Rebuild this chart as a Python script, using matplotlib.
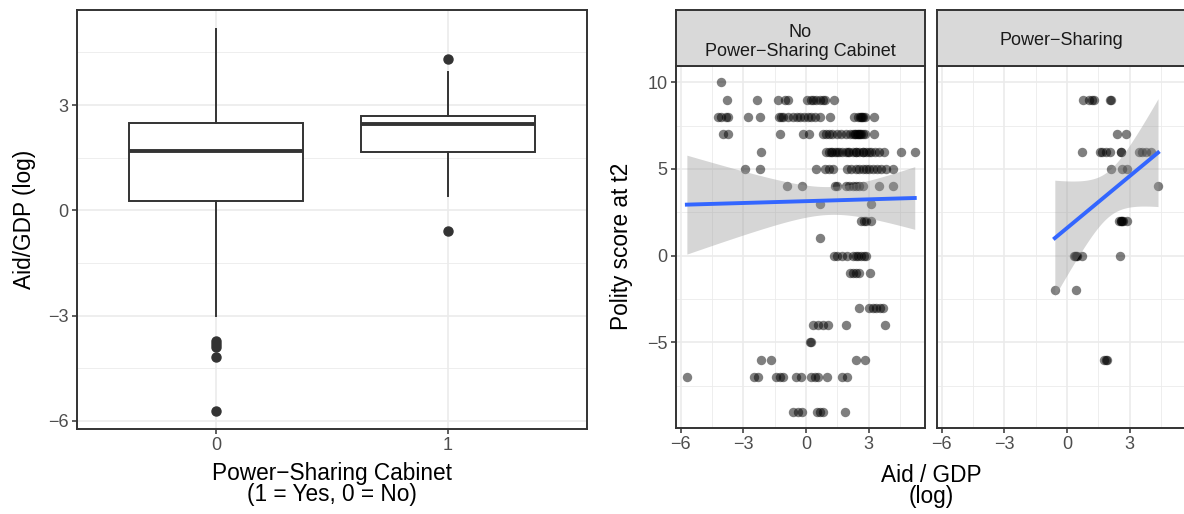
import numpy as np
import matplotlib
matplotlib.use("Agg")
import matplotlib.pyplot as plt

plt.rcParams['font.family'] = ['Liberation Sans', 'DejaVu Sans']

# ---- left panel: box plot of aid/gdp by power sharing ----
box_groups = ['0', '1']
box_whislo = [-3.0, 0.40]
box_q1 = [0.28, 1.67]
box_med = [1.69, 2.45]
box_q3 = [2.49, 2.69]
box_whishi = [5.16, 3.95]
box_fliers = [[-3.71, -3.80, -3.90, -4.17, -5.73], [4.30, -0.60]]

# ---- right panel: polity score vs aid/gdp, by facet ----
facet_labels = ['No\nPower\u2212Sharing Cabinet', 'Power\u2212Sharing']

no_ps_aid = [
    -4.08,
    -3.77, -2.37, -1.36, -0.99, -0.86, 0.02, 0.22, 0.35, 0.48, 0.67, 0.80, 0.92, 1.32,
    -4.21, -4.08, -3.85, -3.72, -2.78, -2.21, -1.31, -1.20, -1.09, -0.87, -0.63, -0.44,
    -0.31, -0.11, 0.10, 0.22, 0.43, 0.67, 1.16, 2.30, 2.46, 2.59, 2.71, 2.82, 3.24,
    2.62, 2.68,
    -3.97, -3.72, -1.25, -0.17, 0.15, 0.83, 0.96, 1.08, 1.24, 1.49, 1.65, 1.89, 2.10,
    2.22, 2.33, 2.46, 2.59, 2.71, 2.82, 3.24, 2.36, 2.42, 2.52, 2.64,
    -2.18, 0.96, 1.08, 1.24, 1.40, 1.57, 1.73, 1.89, 2.06, 2.22, 2.38, 2.54, 2.71, 2.87,
    3.11, 3.28, 3.47, 3.73, 4.55, 5.20, 1.20, 1.50, 2.00, 2.40, 2.70, 3.00,
    -2.94, -2.23, 0.46, 0.92, 1.08, 1.29, 1.97, 2.17, 2.38, 2.54, 2.71, 2.87, 3.03, 3.19,
    3.41, 3.60, 3.80, 4.17,
    -0.92, -0.19, 1.37, 1.49, 1.89, 2.06, 2.22, 2.38, 2.54, 2.71, 3.47, 4.17,
    0.67, 3.11,
    2.62, 2.75, 2.87, 3.11,
    0.67,
    1.32, 1.49, 1.73, 1.97, 2.22, 2.38, 2.49, 2.62, 2.75, 2.87,
    2.10, 2.22, 2.38, 2.54, 3.08,
    2.54, 3.03, 3.19, 3.36, 3.52, 3.68,
    0.35, 0.59, 0.80, 1.03, 1.89, 3.76,
    0.18, 0.22,
    -2.18, -1.69, 2.38, 2.82,
    -5.71, -2.50, -2.29, -1.44, -1.25, -1.09, -0.47, -0.27, 0.22, 0.43, 0.56, 1.00, 1.73, 1.94,
    -0.63, -0.39, -0.22, 0.51, 0.67, 0.83, 1.86,
]
no_ps_polity = (
    [10] * 1 + [9] * 13 + [8] * 27 + [7] * 24 + [6] * 26 + [5] * 18 + [4] * 12
    + [3] * 2 + [2] * 4 + [1] * 1 + [0] * 10 + [-1] * 5 + [-3] * 6 + [-4] * 6
    + [-5] * 2 + [-6] * 4 + [-7] * 14 + [-9] * 7
)

ps_aid = [
    0.77, 1.04, 1.20, 1.28, 2.05, 2.10,
    2.40, 2.80,
    0.72, 1.55, 1.65, 1.84, 2.05, 2.56, 2.60, 3.45, 3.60, 3.76, 4.00,
    2.08, 2.64, 2.88,
    4.35,
    2.50, 2.56, 2.60, 2.62, 2.68, 2.88,
    0.32, 0.40, 0.44, 0.48, 0.72, 2.53,
    -0.59, 0.41,
    1.76, 1.84, 1.92,
]
ps_polity = (
    [9] * 6 + [7] * 2 + [6] * 11 + [5] * 3 + [4] * 1 + [2] * 6 + [0] * 6
    + [-2] * 2 + [-6] * 3
)

W, H = 1184, 514
fig = plt.figure(figsize=(W / 100, H / 100), dpi=100)

GRID = '#EBEBEB'
BORDER = '#333333'
TICKC = '#4D4D4D'
TICK_FS = 13
TITLE_FS = 16.3


def px_axes(x0, y0, x1, y1):
    return fig.add_axes([x0 / W, 1 - y1 / H, (x1 - x0) / W, (y1 - y0) / H])


def style(ax):
    for s in ax.spines.values():
        s.set_color(BORDER)
        s.set_linewidth(1.4)
    ax.tick_params(colors=BORDER, labelcolor=TICKC, labelsize=TICK_FS,
                   length=3.5, width=1.1, pad=2.5)
    ax.set_axisbelow(True)


# left box plot
ax0 = px_axes(77, 10, 587, 429)
style(ax0)
for v in [-4.5, -1.5, 1.5, 4.5]:
    ax0.axhline(v, color=GRID, lw=0.6, zorder=0)
for v in [-6, -3, 0, 3]:
    ax0.axhline(v, color=GRID, lw=1.2, zorder=0)
for v in [0, 1]:
    ax0.axvline(v, color=GRID, lw=1.2, zorder=0)

stats = []
for i in range(len(box_groups)):
    stats.append(dict(label=box_groups[i], whislo=box_whislo[i], q1=box_q1[i],
                      med=box_med[i], q3=box_q3[i], whishi=box_whishi[i],
                      fliers=box_fliers[i]))
lw_box = 1.4
ax0.bxp(stats, positions=[0, 1], widths=0.75, showcaps=False, patch_artist=True,
        boxprops=dict(facecolor='white', edgecolor=BORDER, linewidth=lw_box),
        whiskerprops=dict(color=BORDER, linewidth=lw_box),
        medianprops=dict(color=BORDER, linewidth=2.8),
        flierprops=dict(marker='o', markerfacecolor=BORDER, markeredgecolor=BORDER,
                        markersize=6.5))
ax0.set_xlim(-0.6, 1.6)
ax0.set_ylim(-6.23, 5.71)
ax0.set_yticks([-6, -3, 0, 3])
ax0.set_yticklabels(['\u22126', '\u22123', '0', '3'])
ax0.set_xticks([0, 1])
ax0.set_xticklabels(box_groups)
ax0.set_ylabel('Aid/GDP (log)', fontsize=TITLE_FS, labelpad=9)
fig.text(332 / W, 1 - 484 / H, 'Power\u2212Sharing Cabinet\n(1 = Yes, 0 = No)',
         ha='center', va='center', fontsize=TITLE_FS, linespacing=0.9)


def t975(df):
    z = 1.959964
    return (z + (z**3 + z) / (4 * df) + (5 * z**5 + 16 * z**3 + 3 * z) / (96 * df**2)
            + (3 * z**7 + 19 * z**5 + 17 * z**3 - 15 * z) / (384 * df**3))


def smooth(ax, x, y):
    x = np.asarray(x, float)
    y = np.asarray(y, float)
    n = len(x)
    b, a = np.polyfit(x, y, 1)
    resid = y - (a + b * x)
    s = np.sqrt(np.sum(resid**2) / (n - 2))
    xs = np.linspace(x.min(), x.max(), 80)
    fit = a + b * xs
    se = s * np.sqrt(1 / n + (xs - x.mean())**2 / np.sum((x - x.mean())**2))
    t = t975(n - 2)
    ax.fill_between(xs, fit - t * se, fit + t * se, color='#999999', alpha=0.4,
                    lw=0, zorder=3)
    ax.plot(xs, fit, color='#3366FF', lw=2.8, zorder=4)


facet_x = [(676, 925), (937, 1186)]
facet_data = [(no_ps_aid, no_ps_polity), (ps_aid, ps_polity)]
strip_y = [0.43, 0.46]
for k in range(2):
    x0, x1 = facet_x[k]
    ax = px_axes(x0, 65.7, x1, 428)
    style(ax)
    for v in [-7.5, -2.5, 2.5, 7.5]:
        ax.axhline(v, color=GRID, lw=0.6, zorder=0)
    for v in [-5, 0, 5, 10]:
        ax.axhline(v, color=GRID, lw=1.2, zorder=0)
    for v in [-4.5, -1.5, 1.5, 4.5]:
        ax.axvline(v, color=GRID, lw=0.6, zorder=0)
    for v in [-6, -3, 0, 3]:
        ax.axvline(v, color=GRID, lw=1.2, zorder=0)
    xd, yd = facet_data[k]
    ax.scatter(xd, yd, s=46, color='black', alpha=0.5, linewidths=0, zorder=2)
    smooth(ax, xd, yd)
    ax.set_xlim(-6.23, 5.69)
    ax.set_ylim(-9.95, 10.95)
    ax.set_xticks([-6, -3, 0, 3])
    ax.set_xticklabels(['\u22126', '\u22123', '0', '3'])
    ax.set_yticks([-5, 0, 5, 10])
    if k == 0:
        ax.set_yticklabels(['\u22125', '0', '5', '10'])
        ax.set_ylabel('Polity score at t2', fontsize=TITLE_FS, labelpad=10)
    else:
        ax.tick_params(axis='y', left=False, labelleft=False)
    # strip
    st = px_axes(x0, 10, x1, 65.7)
    st.set_facecolor('#D9D9D9')
    for s in st.spines.values():
        s.set_color(BORDER)
        s.set_linewidth(1.4)
    st.set_xticks([])
    st.set_yticks([])
    st.text(0.5, strip_y[k], facet_labels[k], ha='center', va='center',
            fontsize=TICK_FS, color='#1A1A1A', linespacing=1.18,
            transform=st.transAxes)

fig.text(931 / W, 1 - 486 / H, 'Aid / GDP\n(log)', ha='center', va='center',
         fontsize=TITLE_FS, linespacing=0.9)

fig.savefig('out.png', dpi=100)
